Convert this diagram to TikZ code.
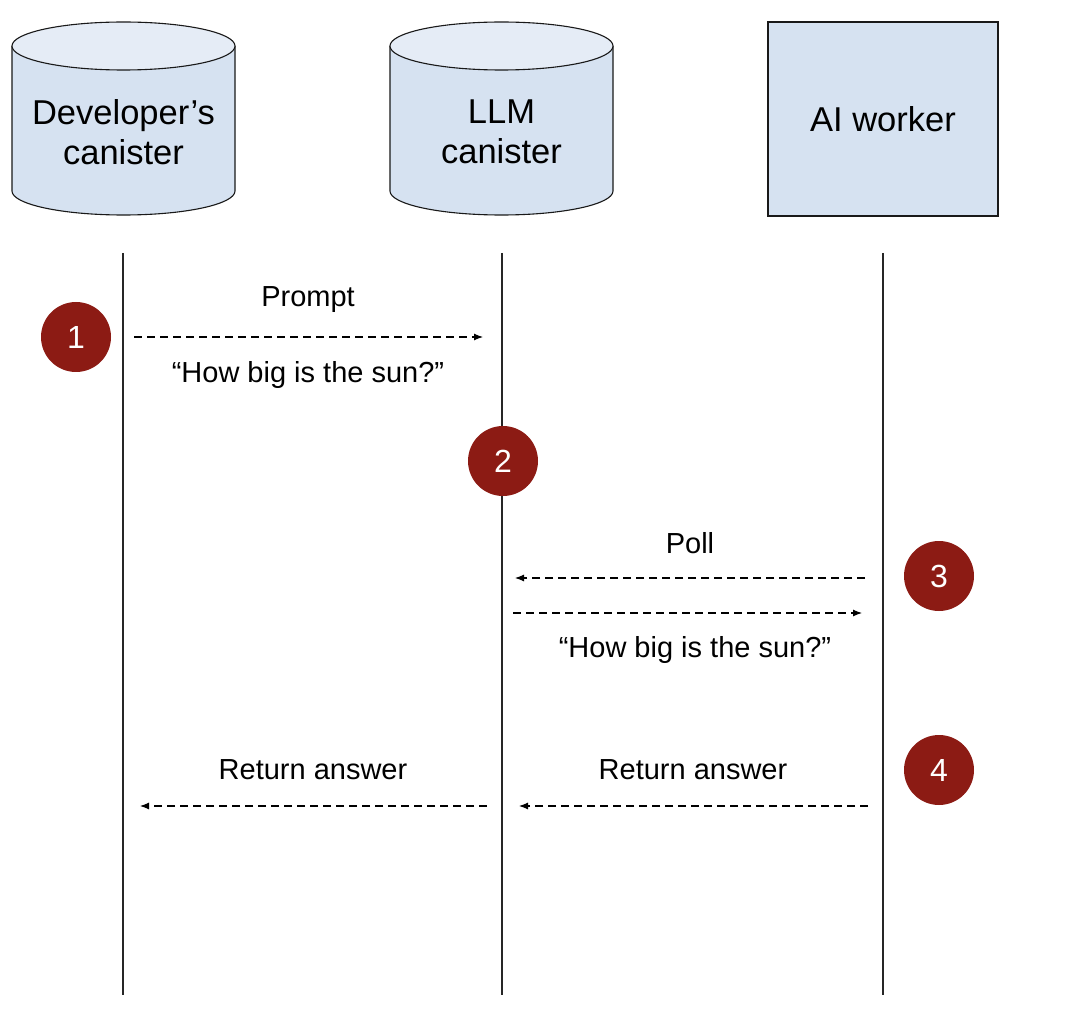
\documentclass[tikz,border=0pt]{standalone}
\usepackage{fontspec}
\setmainfont{Liberation Sans}
\usetikzlibrary{arrows.meta}

\begin{document}
\begin{tikzpicture}[x=1pt,y=-1pt]

% Define diagram colors
\definecolor{boxblue}{RGB}{214,226,241}
\definecolor{topblue}{RGB}{229,236,246}
\definecolor{stepred}{RGB}{140,27,20}
\colorlet{lifecolor}{black!85}

\tikzset{
outline/.style={draw=black!90, line width=1.1pt},
actortext/.style={align=center, inner sep=0pt, font=\fontsize{34.5}{40}\selectfont},
worker/.style={rectangle, outline, fill=boxblue, minimum width=230pt, minimum height=194pt,
    font=\fontsize{34.5}{40}\selectfont},
lifeline/.style={draw=lifecolor, line width=1.5pt},
stepmark/.style={circle, fill=stepred, text=white, minimum size=70pt, inner sep=0pt,
    font=\fontsize{32}{36}\selectfont},
msg/.style={dash pattern=on 8pt off 5pt, line width=1.1pt, -{Latex[length=9pt,width=7pt]}},
msglabel/.style={font=\fontsize{29}{34}\selectfont}
}

\useasboundingbox (0,0) rectangle (1082,1016);

% canisters (drawn round their text centres)
\coordinate (devc) at (123.5,132);
\coordinate (llmc) at (501.5,132);
\foreach \c in {devc,llmc} {
  \path [fill=boxblue] ([xshift=-111.5pt,yshift=86pt]\c) -- ([xshift=-111.5pt,yshift=-59pt]\c)
    arc [start angle=180, end angle=360, x radius=111.5pt, y radius=24pt]
    -- ([xshift=111.5pt,yshift=86pt]\c) -- cycle;
  \draw [outline] ([xshift=-111.5pt,yshift=86pt]\c) -- ([xshift=-111.5pt,yshift=-59pt]\c)
    arc [start angle=180, end angle=360, x radius=111.5pt, y radius=24pt]
    -- ([xshift=111.5pt,yshift=86pt]\c);
  \draw [outline, fill=topblue] ([yshift=86pt]\c) ellipse [x radius=111.5pt, y radius=24pt];
}

% actors
\node [actortext] (dev) at (devc) {Developer’s\\canister};
\node [actortext] (llm) at (llmc) {LLM\\canister};
\node [worker] (ai) at (883,119) {AI worker};

% lifelines
\coordinate (devtop) at (123,253);
\coordinate (llmtop) at (502,253);
\coordinate (aitop) at (883,253);
\draw [lifeline] (devtop) -- (devtop |- 0,995);
\draw [lifeline] (llmtop) -- (llmtop |- 0,995);
\draw [lifeline] (aitop) -- (aitop |- 0,995);

% steps
\node [stepmark] (s1) at (76,337) {1};
\node [stepmark] (s2) at (503,461) {2};
\node [stepmark] (s3) at (939,576) {3};
\node [stepmark] (s4) at (939,770) {4};

% messages
\coordinate (prompt) at (0,337);
\coordinate (poll) at (0,578);
\coordinate (fetch) at (0,613);
\coordinate (answer) at (0,806);
\draw [msg, shorten <=11pt, shorten >=19pt] (devtop |- prompt) -- (llmtop |- prompt);
\draw [msg, shorten <=18pt, shorten >=13pt] (aitop |- poll) -- (llmtop |- poll);
\draw [msg, shorten <=11pt, shorten >=21pt] (llmtop |- fetch) -- (aitop |- fetch);
\draw [msg, shorten <=15pt, shorten >=17pt] (aitop |- answer) -- (llmtop |- answer);
\draw [msg, shorten <=15pt, shorten >=17pt] (llmtop |- answer) -- (devtop |- answer);

% message labels
\node [msglabel] (promptlbl) at (308,300) {Prompt};
\node [msglabel] (q1lbl) at (308,375) {“How big is the sun?”};
\node [msglabel] (polllbl) at (690,543) {Poll};
\node [msglabel] (q2lbl) at (695,650) {“How big is the sun?”};
\node [msglabel] (ans1lbl) at (313,770) {Return answer};
\node [msglabel] (ans2lbl) at (693,770) {Return answer};
\end{tikzpicture}
\end{document}
